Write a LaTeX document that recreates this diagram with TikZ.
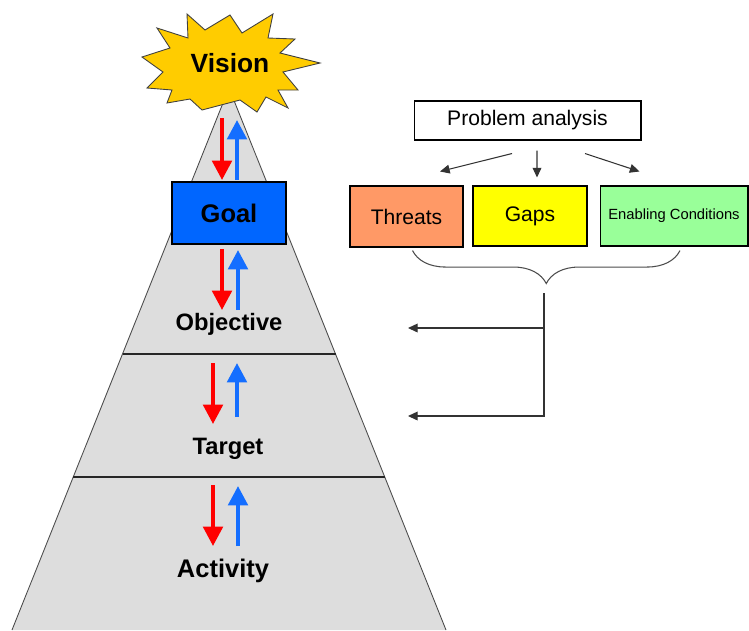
\documentclass[tikz,border=0pt]{standalone}
\usepackage{fontspec}
\setmainfont{Liberation Sans}
\usetikzlibrary{arrows.meta,decorations.pathreplacing}

\definecolor{starGold}{RGB}{255,204,0}
\definecolor{pyramidGray}{RGB}{221,221,221}
\definecolor{goalBlue}{RGB}{0,102,255}
\definecolor{arrowRed}{RGB}{255,0,0}
\definecolor{arrowBlue}{RGB}{20,110,255}
\definecolor{threatOrange}{RGB}{255,153,102}
\definecolor{gapYellow}{RGB}{255,255,0}
\definecolor{condGreen}{RGB}{153,255,153}

\tikzset{
  levelLabel/.style={font=\bfseries\fontsize{13.5}{16}\selectfont, text height=0.72em, text depth=0pt, inner sep=0pt},
  problemBox/.style={draw, line width=0.6pt, inner sep=0pt, minimum height=1.2cm, font=\fontsize{12}{14}\selectfont},
  downArrow/.style={draw=arrowRed, line width=2.3pt, -{Triangle[length=11pt,width=11pt]}},
  upArrow/.style={draw=arrowBlue, line width=2.3pt, -{Triangle[length=11pt,width=11pt]}},
  feed/.style={draw=black!80, line width=0.6pt, -{Triangle[length=5.5pt,width=5pt]}}
}

\begin{document}
\begin{tikzpicture}[x=0.02cm, y=-0.02cm]
  \useasboundingbox (0,0) rectangle (749,630);
  % pyramid
  \coordinate (apex) at (229,88);
  \coordinate (baseL) at (12,630);
  \coordinate (baseR) at (446,630);
  \fill[pyramidGray] (apex) -- (baseL) -- (baseR) -- cycle;
  \draw[gray!60!black, line width=0.5pt] (baseL) -- (apex) -- (baseR);
  \draw[black!85, line width=0.7pt]
    (intersection of apex--baseL and 0,354--749,354) -- (intersection of apex--baseR and 0,354--749,354);
  \draw[black!85, line width=0.7pt]
    (intersection of apex--baseL and 0,477--749,477) -- (intersection of apex--baseR and 0,477--749,477);
  % vision star
  \filldraw[fill=starGold, draw=gray!50!black, line width=0.5pt]
    (142,57) -- (170,48) -- (157,28) -- (188,38) -- (187,14) -- (205,30)
    -- (230,15) -- (242,33) -- (273,14) -- (268,38) -- (295,39) -- (280,53)
    -- (320,63) -- (283,72) -- (298,90) -- (278,90) -- (288,108) -- (266,97)
    -- (257,112) -- (240,100) -- (202,110) -- (190,99) -- (167,103) -- (172,90)
    -- (147,88) -- (163,72) -- cycle;
  \node[font=\bfseries\fontsize{15}{18}\selectfont, text height=0.72em, text depth=0pt, inner sep=0pt] (vision) at (230,66) {Vision};
  % levels
  \node[draw, line width=0.6pt, fill=goalBlue, inner sep=0pt, minimum width=2.28cm, minimum height=1.24cm,
        font=\bfseries\fontsize{14.5}{17}\selectfont] (goal) at (229,213) {Goal};
  \node[levelLabel] (objective) at (229,324) {Objective};
  \node[levelLabel] (target) at (228,448) {Target};
  \node[levelLabel, font=\bfseries\fontsize{14.5}{17}\selectfont] (activity) at (223,571) {Activity};
  \foreach \rx/\rt/\rb/\bx/\bt/\bb in {222/118/180/237/120/180, 222/249/310/238/250/310,
                                      213/363/424/237/363/417, 213/485/546/238/486/546}{
    \draw[downArrow] (\rx,\rt) -- (\rx,\rb);
    \draw[upArrow] (\bx,\bb) -- (\bx,\bt);
  }
  % problem analysis
  \node[problemBox, minimum width=4.54cm, minimum height=0.78cm] (analysis) at (527.5,120.5) {Problem analysis};
  \node[problemBox, fill=threatOrange, minimum width=2.26cm, minimum height=1.22cm] (threats) at (406.5,216.5) {Threats};
  \node[problemBox, fill=gapYellow, minimum width=2.28cm] (gaps) at (530,216) {Gaps};
  \node[problemBox, fill=condGreen, minimum width=2.96cm, font=\fontsize{8.4}{10}\selectfont] (conditions) at (674,216) {Enabling Conditions};
  \draw[feed] ([shift={(-15.5,13)}]analysis.south) -- ([shift={(33.5,-14)}]threats.north);
  \draw[feed] ([shift={(9.5,10)}]analysis.south) -- ([shift={(7,-8)}]gaps.north);
  \draw[feed] ([shift={(57.5,13)}]analysis.south) -- ([shift={(-34.5,-14)}]conditions.north);
  % brace and feedback
  \draw[black!70, line width=0.6pt, decorate, decoration={brace, mirror, amplitude=0.66cm}]
    ([shift={(6,3)}]threats.south) -- ([shift={(6,4)}]conditions.south);
  \coordinate (split) at (544,293);
  \coordinate (toObjective) at (408,328);
  \coordinate (toTarget) at (408,416);
  \draw[feed] (split) |- (toTarget);
  \draw[feed] (split |- toObjective) -- (toObjective);
\end{tikzpicture}
\end{document}
